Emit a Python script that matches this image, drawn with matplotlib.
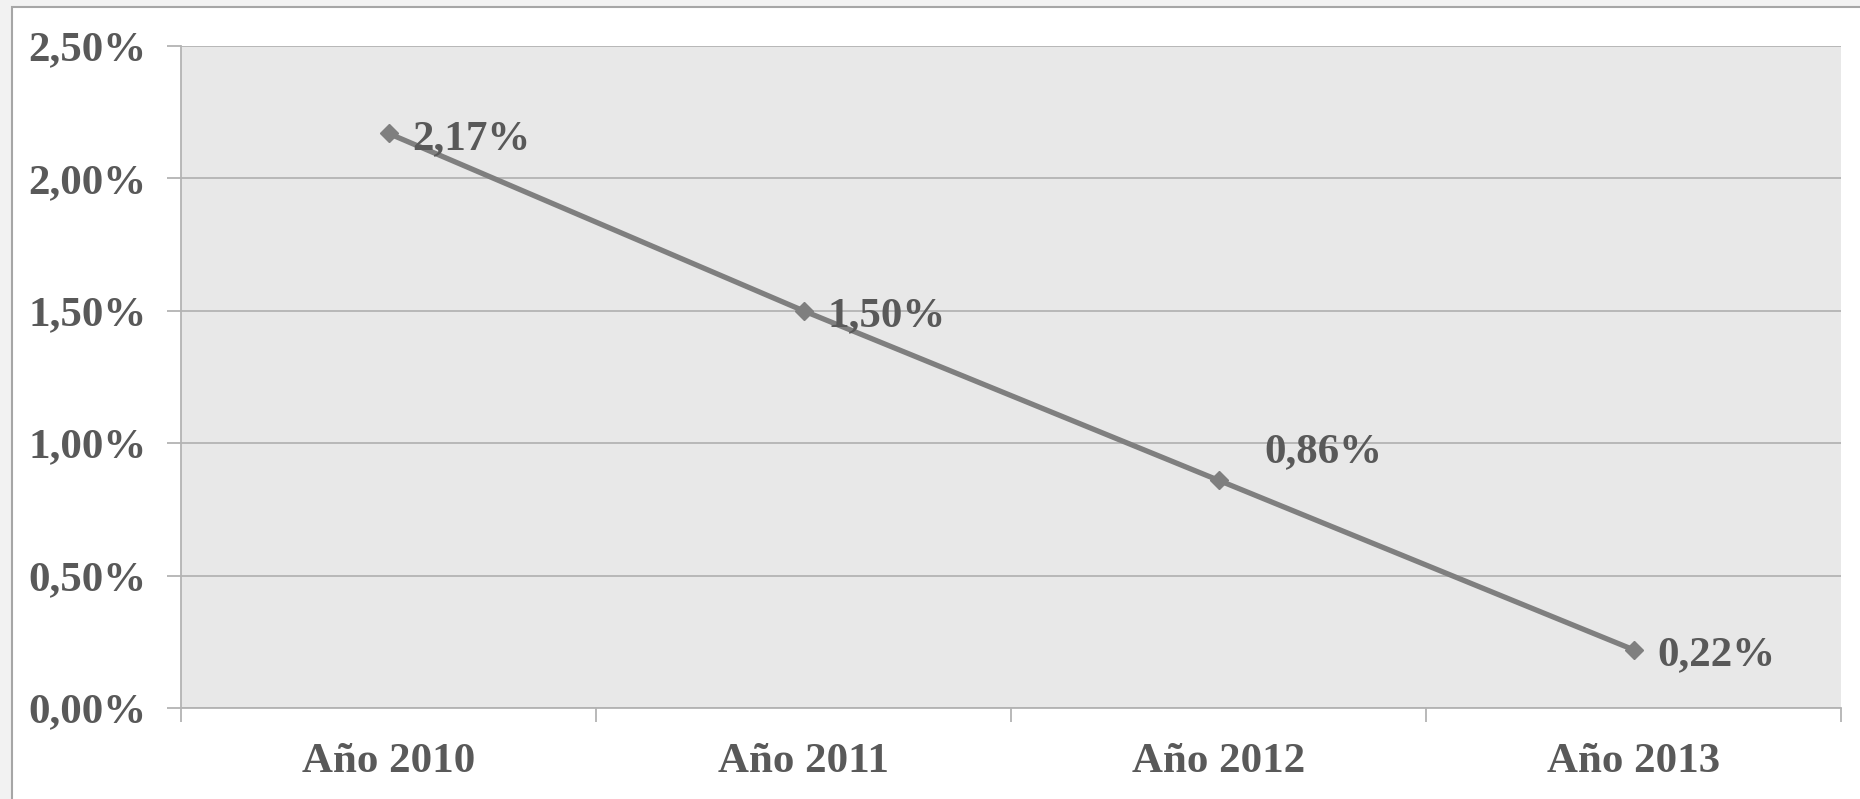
import matplotlib
matplotlib.use("Agg")
import matplotlib.pyplot as plt
from matplotlib.patches import Rectangle

categories = ["Año 2010", "Año 2011", "Año 2012", "Año 2013"]
values = [2.17, 1.50, 0.86, 0.22]
labels = ["2,17%", "1,50%", "0,86%", "0,22%"]
ytick_values = [0.0, 0.5, 1.0, 1.5, 2.0, 2.5]
ytick_labels = ["0,00%", "0,50%", "1,00%", "1,50%", "2,00%", "2,50%"]

W, H, DPI = 1860, 799, 100
text_color = "#595959"
grid_color = "#b3b3b3"
font = dict(family="Liberation Serif", weight="bold", size=31, color=text_color)

fig = plt.figure(figsize=(W / DPI, H / DPI), dpi=DPI, facecolor="#f2f2f2")

# white chart frame, running off the right and bottom edges
frame = Rectangle((12 / W, -0.05), 1.1, 1.05 - 7 / H,
                  transform=fig.transFigure, facecolor="white",
                  edgecolor="#a6a6a6", linewidth=1.5, zorder=-1)
fig.add_artist(frame)

left, top, right, bottom = 181, 46, 1841, 708
ax = fig.add_axes([left / W, 1 - bottom / H, (right - left) / W, (bottom - top) / H])
ax.set_facecolor("#e8e8e8")

x = list(range(len(categories)))
ax.plot(x, values, color="#7f7f7f", linewidth=3.8, marker="D", markersize=9,
        markerfacecolor="#7f7f7f", markeredgecolor="#7f7f7f", zorder=3,
        solid_capstyle="butt")

# value labels beside each point (offsets in points)
offsets = [(17, -4), (17, -4), (33, 20), (17, -4)]
for xi, v, lab, off in zip(x, values, labels, offsets):
    ax.annotate(lab, (xi, v), xytext=off, textcoords="offset points",
                ha="left", va="center", zorder=4, **font)

ax.set_xlim(-0.5, len(categories) - 0.5)
ax.set_ylim(0, 2.5)

ax.set_yticks(ytick_values)
ax.set_yticklabels(ytick_labels)
ax.yaxis.grid(True, color=grid_color, linewidth=1.3)
ax.set_axisbelow(True)

# category labels centred, tick marks on category boundaries
ax.set_xticks(x)
ax.set_xticklabels(categories)
ax.set_xticks([i - 0.5 for i in range(len(categories) + 1)], minor=True)
ax.tick_params(axis="x", which="major", length=0, pad=25)
ax.tick_params(axis="x", which="minor", length=10, width=1.3, color=grid_color)
ax.tick_params(axis="y", length=10, width=1.3, color=grid_color, pad=15)

for t in ax.get_xticklabels() + ax.get_yticklabels():
    t.set_fontfamily(font["family"])
    t.set_fontweight("bold")
    t.set_fontsize(font["size"])
    t.set_color(text_color)

for side in ("top", "right"):
    ax.spines[side].set_visible(False)
for side in ("left", "bottom"):
    ax.spines[side].set_color(grid_color)
    ax.spines[side].set_linewidth(1.3)

fig.savefig("out.png", dpi=DPI, facecolor=fig.get_facecolor())
